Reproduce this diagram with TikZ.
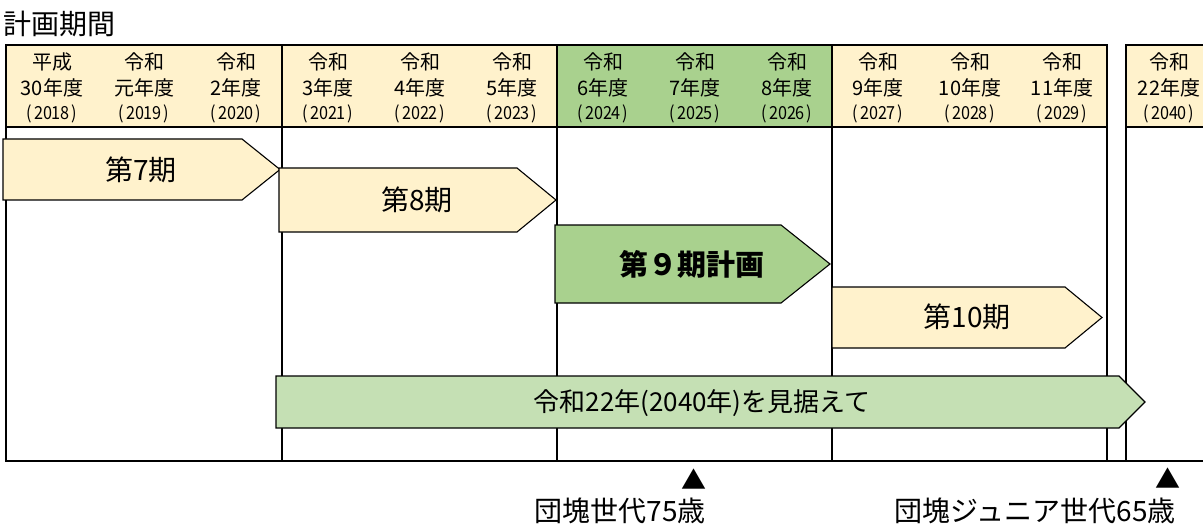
\documentclass[tikz,border=0pt]{standalone}
\usepackage{fontspec}
\setmainfont{Noto Sans CJK JP}
\definecolor{hdryel}{HTML}{FFF2CC}
\definecolor{hdrgrn}{HTML}{A9D18E}
\definecolor{longgrn}{HTML}{C5E0B4}
\tikzset{
  frameline/.style={line width=1.8pt, black},
  barshape/.style={draw=black, line width=1.1pt, line join=miter},
  lbl/.style={inner sep=0pt, anchor=center, text=black},
  hdrtop/.style={lbl, font=\fontsize{20pt}{22pt}\selectfont},
  hdryear/.style={lbl, font=\fontsize{18pt}{20pt}\selectfont},
  barlbl/.style={lbl, font=\fontsize{28pt}{30pt}\selectfont},
}
\newcommand\arrowbar[6]{%
  \draw[barshape, fill=#6] (#1,#2) -- (#4,#2) -- (#5,{(#2+#3)/2}) -- (#4,#3) -- (#1,#3) -- cycle;}
\newcommand\yeartext[1]{\scalebox{0.9}[1]{(\kern2pt#1\kern2pt)}}
\begin{document}
\begin{tikzpicture}[x=1pt, y=-1pt]
\path[use as bounding box] (0,0) rectangle (1203,524);
\clip (0,0) rectangle (1203,524);
% title
\node[lbl, anchor=west, font=\fontsize{28pt}{30pt}\selectfont] (title) at (3,24) {計画期間};
% header fills
\fill[hdryel] (6,45) rectangle (557,127);
\fill[hdrgrn] (557,45) rectangle (832,127);
\fill[hdryel] (832,45) rectangle (1107,127);
\fill[hdryel] (1126,45) rectangle (1230,127);
% frame
\draw[frameline] (6,45) rectangle (1107,461);
\draw[frameline] (6,127) -- (1107,127);
\foreach \xx in {282,557,832} \draw[frameline] (\xx,45) -- (\xx,461);
\draw[frameline] (1126,45) rectangle (1240,461);
\draw[frameline] (1126,127) -- (1240,127);
\draw[frameline] (1107,461) -- (1126,461);
% header texts
\foreach \cx/\ta/\tb/\tc [count=\i] in {
  52/平成/30年度/2018, 144/令和/元年度/2019, 236/令和/2年度/2020,
  328/令和/3年度/2021, 420/令和/4年度/2022, 512/令和/5年度/2023,
  603/令和/6年度/2024, 695/令和/7年度/2025, 787/令和/8年度/2026,
  878/令和/9年度/2027, 970/令和/10年度/2028, 1062/令和/11年度/2029,
  1169/令和/22年度/2040}{
  \node[hdrtop] (era\i) at (\cx,62) {\ta};
  \node[hdrtop] (yr\i) at (\cx,88) {\tb};
  \node[hdryear] (ad\i) at (\cx,114) {\yeartext{\tc}};
}
% bars
\arrowbar{3}{139}{200}{242}{280}{hdryel}
\node[barlbl] (p7) at (141,170) {第7期};
\arrowbar{279}{168}{232}{517}{556}{hdryel}
\node[barlbl] (p8) at (417,200) {第8期};
\arrowbar{555}{225}{303}{781}{830}{hdrgrn}
\node[barlbl, font=\fontsize{29pt}{31pt}\selectfont\bfseries] (p9) at (692,264) {第９期計画};
\arrowbar{832}{287}{348}{1065}{1102}{hdryel}
\node[barlbl] (p10) at (967,317) {第10期};
\arrowbar{276}{376}{428}{1119}{1145}{longgrn}
\node[barlbl, font=\fontsize{26pt}{28pt}\selectfont] (p2040) at (702,403) {令和22年(2040年)を見据えて};
% markers
\node[lbl, font=\fontsize{25pt}{27pt}\selectfont] (m1) at (694,479) {▲};
\node[lbl, font=\fontsize{25pt}{27pt}\selectfont] (m2) at (1168,478) {▲};
\node[lbl, font=\fontsize{28pt}{30pt}\selectfont] (l1) at (620,511) {団塊世代75歳};
\node[lbl, font=\fontsize{28pt}{30pt}\selectfont] (l2) at (1035,511) {団塊ジュニア世代65歳};
\end{tikzpicture}
\end{document}
